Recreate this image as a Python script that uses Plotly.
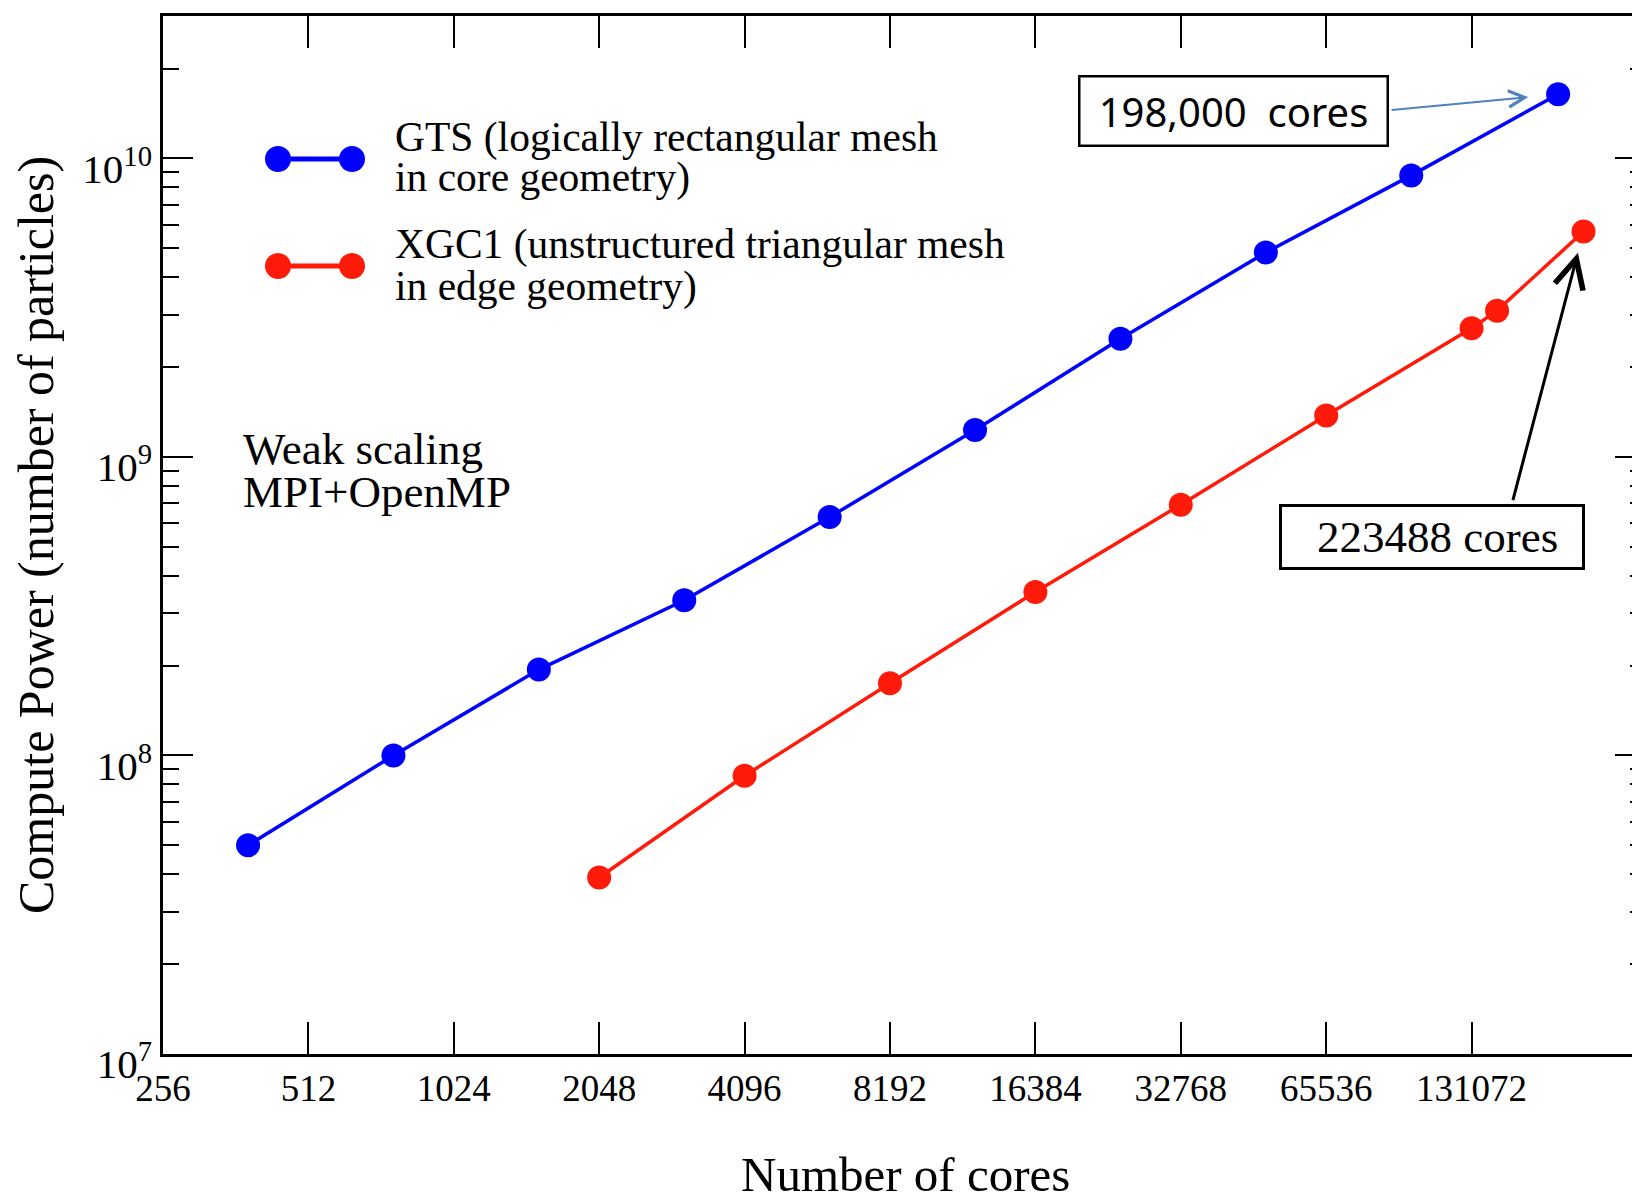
import math
import plotly.graph_objects as go

# Weak-scaling data: number of cores vs. compute power (number of particles)
gts_cores = [384, 768, 1536, 3072, 6144, 12288, 24576, 49152, 98304, 198000]
gts_particles = [5.0e7, 1.0e8, 1.94e8, 3.31e8, 6.29e8, 1.23e9, 2.49e9, 4.84e9, 8.77e9, 1.64e10]

xgc_cores = [2048, 4096, 8192, 16384, 32768, 65536, 131072, 148000, 223488]
xgc_particles = [3.9e7, 8.55e7, 1.745e8, 3.53e8, 6.92e8, 1.377e9, 2.70e9, 3.09e9, 5.69e9]

x_ticks = [256, 512, 1024, 2048, 4096, 8192, 16384, 32768, 65536, 131072]
x_tick_labels = [str(v) for v in x_ticks]
y_ticks = [1e7, 1e8, 1e9, 1e10]
y_tick_labels = ["10<sup>7</sup>", "10<sup>8</sup>", "10<sup>9</sup>", "10<sup>10</sup>"]
y_minor = [m * 10 ** e for e in range(7, 11) for m in range(2, 10) if m * 10 ** e < 3.1e10]

BLUE = "#0000ff"
RED = "#ff1a0a"
SERIF = "Liberation Serif, Times New Roman, serif"
SANS = "Noto Sans, Open Sans, sans-serif"

W, H = 1632, 1202
L, T, B, R = 163, 16, 148, 0
PW, PH = W - L - R, H - T - B


def px(x):
    return (x - L) / PW


def py(y):
    return (H - B - y) / PH


fig = go.Figure()
fig.add_trace(go.Scatter(
    x=gts_cores, y=gts_particles, mode="lines+markers",
    line=dict(color=BLUE, width=3.5), marker=dict(color=BLUE, size=24),
    showlegend=False, cliponaxis=False))
fig.add_trace(go.Scatter(
    x=xgc_cores, y=xgc_particles, mode="lines+markers",
    line=dict(color=RED, width=3.5), marker=dict(color=RED, size=24),
    showlegend=False, cliponaxis=False))

# invisible trace to carry the right-hand tick axis
fig.add_trace(go.Scatter(x=[256], y=[1e7], yaxis="y2", mode="markers",
                         marker=dict(opacity=0), showlegend=False, hoverinfo="skip"))

x_range = [math.log10(256), math.log10(281600)]
y_range = [7, 10.477]

fig.update_layout(
    width=W, height=H,
    margin=dict(l=L, r=R, t=T, b=B),
    paper_bgcolor="white", plot_bgcolor="white",
    xaxis=dict(
        type="log", range=x_range, tickmode="array",
        tickvals=x_ticks, ticktext=x_tick_labels,
        ticks="inside", ticklen=32, tickwidth=2, tickcolor="black",
        showline=True, linecolor="black", linewidth=2.5, mirror="ticks",
        showgrid=False, zeroline=False,
        tickfont=dict(family=SERIF, size=37, color="black"),
    ),
    yaxis=dict(
        type="log", range=y_range, tickmode="array",
        tickvals=y_ticks, ticktext=y_tick_labels,
        ticks="inside", ticklen=30, tickwidth=2, tickcolor="black",
        showline=True, linecolor="black", linewidth=2.5, mirror=False,
        showgrid=False, zeroline=False, ticklabelshift=10,
        tickfont=dict(family=SERIF, size=41, color="black"),
        minor=dict(tickmode="array", tickvals=y_minor, ticks="inside",
                   ticklen=16, tickwidth=2, tickcolor="black", showgrid=False),
    ),
    yaxis2=dict(
        type="log", range=y_range, overlaying="y", side="right",
        anchor="x", tickmode="array", tickvals=y_ticks,
        ticks="inside", ticklen=17, tickwidth=2, tickcolor="black",
        showline=False, showgrid=False, zeroline=False, showticklabels=False,
        minor=dict(tickmode="array", tickvals=y_minor, ticks="inside",
                   ticklen=2, tickwidth=2, tickcolor="black", showgrid=False),
    ),
)

annotations = []


def text(x, y, s, size, family=SERIF, xanchor="left", yanchor="middle"):
    annotations.append(dict(
        x=px(x), y=py(y), xref="paper", yref="paper", text=s, showarrow=False,
        xanchor=xanchor, yanchor=yanchor,
        font=dict(family=family, size=size, color="black")))


# axis titles
text(905, 1204, "Number of cores", 49, xanchor="center", yanchor="bottom")
annotations.append(dict(
    x=px(36), y=py(535), xref="paper", yref="paper",
    text="Compute Power (number of particles)", showarrow=False, textangle=-90,
    xanchor="center", yanchor="middle",
    font=dict(family=SERIF, size=50, color="black")))

# legend text
text(393, 138, "GTS (logically rectangular mesh", 41.5)
text(393, 178, "in core geometry)", 41.5)
text(393, 244, "XGC1 (unstructured triangular mesh", 41.5)
text(393, 286, "in edge geometry)", 41.5)

# run-configuration note
text(241, 449, "Weak scaling", 45)
text(241, 492, "MPI+OpenMP", 45)

# labelled boxes
annotations.append(dict(
    x=px(1233), y=py(110.5), xref="paper", yref="paper",
    text="198,000\u00a0\u00a0cores", showarrow=False,
    xanchor="center", yanchor="middle", width=306, height=67, align="center",
    bordercolor="black", borderwidth=2.5, borderpad=0, bgcolor="white",
    font=dict(family=SANS, size=40, color="black")))
annotations.append(dict(
    x=px(1432), y=py(537), xref="paper", yref="paper",
    text="\u00a0223488 cores", showarrow=False,
    xanchor="center", yanchor="middle", width=300, height=60, align="center",
    bordercolor="black", borderwidth=3, borderpad=0, bgcolor="white",
    font=dict(family=SERIF, size=45, color="black")))

# arrows to the largest runs
annotations.append(dict(
    x=math.log10(gts_cores[-1]), y=math.log10(gts_particles[-1]), xref="x", yref="y",
    text="", showarrow=True, ax=-168, ay=16, standoff=30,
    arrowhead=5, arrowsize=1.6, arrowwidth=2, arrowcolor="#4f81bd"))
annotations.append(dict(
    x=math.log10(xgc_cores[-1]), y=math.log10(xgc_particles[-1]), xref="x", yref="y",
    text="", showarrow=True, ax=-71, ay=270, standoff=22,
    arrowhead=5, arrowsize=1.9, arrowwidth=3, arrowcolor="black"))

fig.update_layout(annotations=annotations)

# legend samples: a line segment with a marker at each end
shapes = []
for yy, col in [(159, BLUE), (266, RED)]:
    shapes.append(dict(type="line", xref="paper", yref="paper",
                       x0=px(278), x1=px(352), y0=py(yy), y1=py(yy),
                       line=dict(color=col, width=5)))
    for xx in (278, 352):
        shapes.append(dict(type="circle", xref="paper", yref="paper",
                           xsizemode="pixel", ysizemode="pixel",
                           xanchor=px(xx), yanchor=py(yy),
                           x0=-13, x1=13, y0=-13, y1=13,
                           fillcolor=col, line=dict(width=0)))
fig.update_layout(shapes=shapes)

fig.write_html("out.html")
